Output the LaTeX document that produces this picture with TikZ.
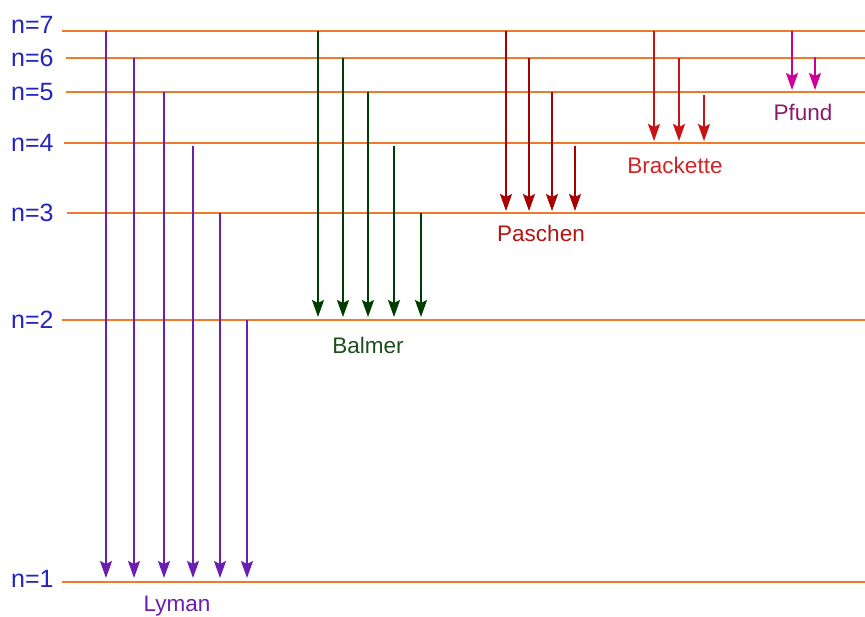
\documentclass[tikz,border=0pt]{standalone}
\usepackage{fontspec}
\setmainfont{Liberation Sans}
\usetikzlibrary{arrows.meta}
\definecolor{lvl}{HTML}{F07A2A}
\definecolor{nlab}{HTML}{2424BE}
\definecolor{lyman}{HTML}{6A1FB0}
\definecolor{balmer}{HTML}{003D00}
\definecolor{balmerlab}{HTML}{1E4D1E}
\definecolor{paschen}{HTML}{A80000}
\definecolor{paschenlab}{HTML}{B41414}
\definecolor{brack}{HTML}{C81414}
\definecolor{bracklab}{HTML}{D02424}
\definecolor{pfund}{HTML}{CC0099}
\definecolor{pfundlab}{HTML}{8B1A6B}
\tikzset{
  level/.style={draw=lvl, line width=2pt},
  nlabel/.style={anchor=west, inner sep=0pt, text=nlab, font=\fontsize{25}{25}\selectfont},
  series/.style={inner sep=0pt, font=\fontsize{22.5}{22.5}\selectfont},
  trans/.style={line width=2.2pt, -{Stealth[length=17pt,width=12pt,inset=3pt]}},
}
\begin{document}
\begin{tikzpicture}[x=1pt,y=-1pt]
\useasboundingbox (0,0) rectangle (865,617);
% levels
\foreach \n/\y/\xs in {7/31/62,6/58/66,5/92/66,4/143/64,3/213/67,2/320/62,1/582/62}{
  \coordinate (lvl\n-l) at (\xs,\y);
  \coordinate (lvl\n-r) at (865,\y);
  \draw[level] (lvl\n-l) -- (lvl\n-r);
}
\foreach \n/\y in {7/24.5,6/58,5/92,4/143,3/213,2/320,1/579}{
  \node[nlabel] (nl\n) at (11,\y) {n=\n};
}
% Lyman
\foreach \i/\x/\ys in {1/106/31,2/134/58,3/164/92,4/193/146,5/220/213,6/247/320}{
  \coordinate (ly\i-s) at (\x,\ys);
  \coordinate (ly\i-e) at (\x,578);
  \draw[trans, draw=lyman, fill=lyman] (ly\i-s) -- (ly\i-e);
}
% Balmer
\foreach \i/\x/\ys in {1/318/31,2/343/58,3/368/92,4/394/146,5/421/213}{
  \coordinate (ba\i-s) at (\x,\ys);
  \coordinate (ba\i-e) at (\x,317);
  \draw[trans, draw=balmer, fill=balmer] (ba\i-s) -- (ba\i-e);
}
% Paschen
\foreach \i/\x/\ys in {1/506/31,2/529/58,3/552/92,4/575/146}{
  \coordinate (pa\i-s) at (\x,\ys);
  \coordinate (pa\i-e) at (\x,211);
  \draw[trans, draw=paschen, fill=paschen] (pa\i-s) -- (pa\i-e);
}
% Brackette
\foreach \i/\x/\ys in {1/654/31,2/679/58,3/704/95}{
  \coordinate (br\i-s) at (\x,\ys);
  \coordinate (br\i-e) at (\x,141);
  \draw[trans, draw=brack, fill=brack] (br\i-s) -- (br\i-e);
}
% Pfund
\foreach \i/\x/\ys in {1/792/31,2/815/57}{
  \coordinate (pf\i-s) at (\x,\ys);
  \coordinate (pf\i-e) at (\x,90);
  \draw[trans, draw=pfund, fill=pfund] (pf\i-s) -- (pf\i-e);
}
% series labels
\node[series, text=lyman] (lymanlab) at (177,606) {Lyman};
\node[series, text=balmerlab] (balmerlab) at (368,345) {Balmer};
\node[series, text=paschenlab] (paschenlab) at (541,233) {Paschen};
\node[series, text=bracklab] (bracklab) at (675,165) {Brackette};
\node[series, text=pfundlab] (pfundlab) at (803,112) {Pfund};
\end{tikzpicture}
\end{document}
